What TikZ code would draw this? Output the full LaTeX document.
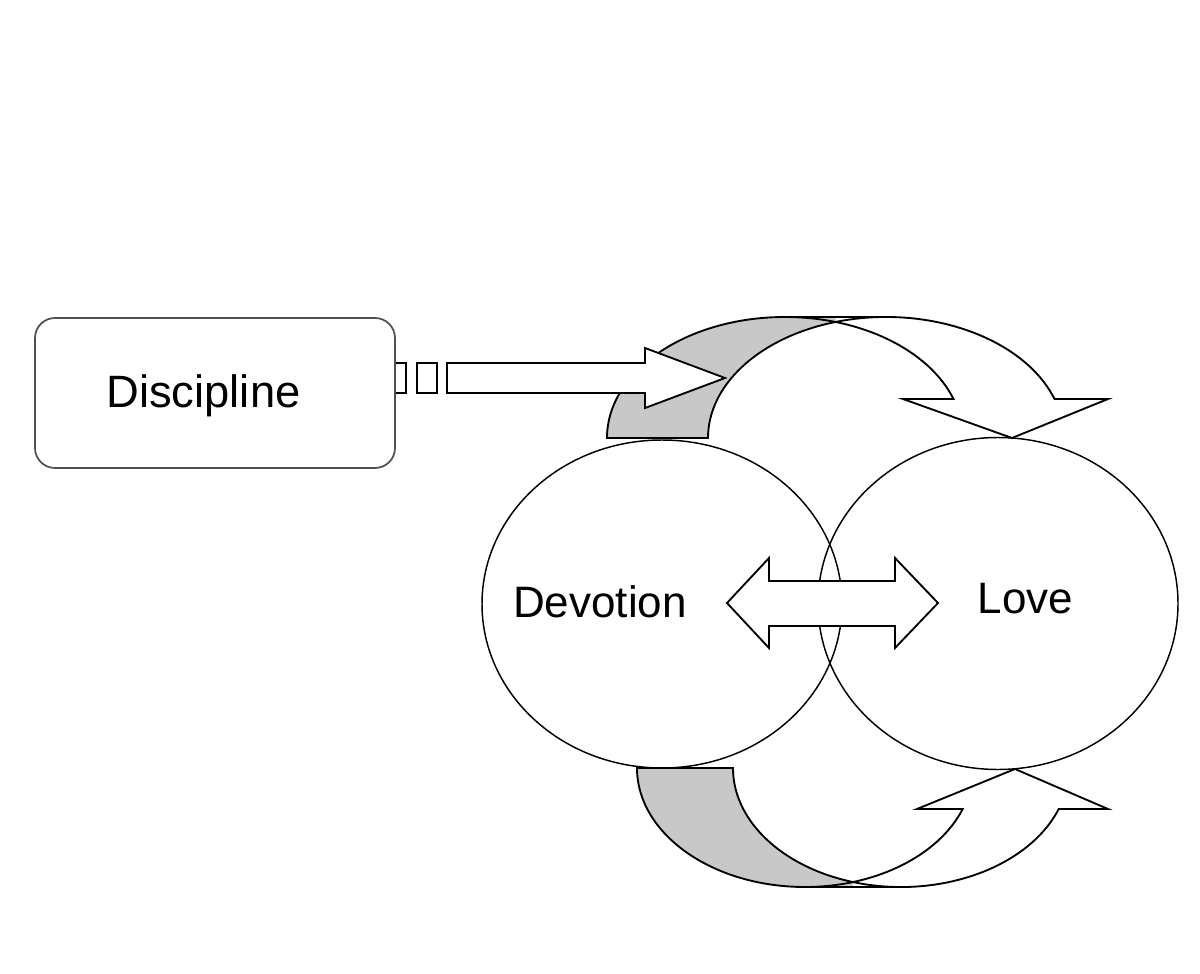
\documentclass[tikz,border=0pt]{standalone}
\usepackage{fontspec}
\setmainfont{Liberation Sans}
\usetikzlibrary{shapes.geometric}
\definecolor{ribbonshade}{RGB}{200,200,200}
\definecolor{boxline}{RGB}{80,80,80}

\begin{document}
\begin{tikzpicture}[x=0.75pt,y=0.75pt,yscale=-1,xscale=1,
    outl/.style={draw=black,line width=1.4pt,line join=miter},
    ringnode/.style={ellipse,draw=black,line width=1.1pt,inner sep=0pt,minimum width=270pt},
    lbl/.style={anchor=base,inner sep=0.75pt,font=\fontsize{33}{40}\selectfont}]
    \useasboundingbox (0,0) rectangle (1200,974);
    \fill[white] (0,0) rectangle (1200,974);
    %Shape: Ellipse [Devotion]
    \node[ringnode,minimum height=246pt] (devo) at (662,604) {};
    %Shape: Ellipse [Love]
    \node[ringnode,minimum height=249pt] (love) at (998,603.5) {};
    %Curved Arrow [top]
    \fill[white] (607,438) arc[start angle=180,end angle=341.2,x radius=178,y radius=121] -- (903,399) -- (1012,438) -- (1108,399) -- (1054.5,399) arc[start angle=341.2,end angle=180,x radius=178,y radius=121] -- cycle;
    \fill[ribbonshade] (607,438) arc[start angle=180,end angle=270,x radius=178,y radius=121] -- (835.6,317) -- (835.6,322) arc[start angle=253.5,end angle=180,x radius=178,y radius=121] -- cycle;
    \draw[outl] (607,438) arc[start angle=180,end angle=341.2,x radius=178,y radius=121] -- (903,399) -- (1012,438) -- (1108,399) -- (1054.5,399) arc[start angle=341.2,end angle=180,x radius=178,y radius=121] -- cycle;
    \draw[outl] (785,317) -- (886,317);
    %Curved Arrow [bottom]
    \fill[white] (637,768) arc[start angle=180,end angle=20.15,x radius=168,y radius=119] -- (917,809) -- (1015,769) -- (1108,809) -- (1058.7,809) arc[start angle=20.15,end angle=180,x radius=168,y radius=119] -- cycle;
    \fill[ribbonshade] (637,768) arc[start angle=180,end angle=90,x radius=168,y radius=119] -- (853,887) -- (853,882) arc[start angle=106.6,end angle=180,x radius=168,y radius=119] -- cycle;
    \draw[outl] (637,768) arc[start angle=180,end angle=20.15,x radius=168,y radius=119] -- (917,809) -- (1015,769) -- (1108,809) -- (1058.7,809) arc[start angle=20.15,end angle=180,x radius=168,y radius=119] -- cycle;
    \draw[outl] (805,887) -- (901,887);
    %Double Arrow
    \draw[outl,fill=white] (727,603) -- (769,558) -- (769,581) -- (895,581) -- (895,558) -- (938,603) -- (895,648) -- (895,626) -- (769,626) -- (769,648) -- cycle;
    %Shape: Rectangle
    \draw[outl,fill=white] (386,363) rectangle (406,393);
    \draw[outl,fill=white] (417,363) rectangle (437,393);
    %Rounded Rect [Discipline]
    \node[draw=boxline,line width=1.3pt,fill=white,rounded corners=15pt,inner sep=0pt,minimum width=270pt,minimum height=112.5pt] (disc) at (215,393) {};
    %Right Arrow
    \draw[outl,fill=white] (447,363) -- (645,363) -- (645,348) -- (725,378) -- (645,408) -- (645,393) -- (447,393) -- cycle;
    % Text Node
    \node[lbl,font=\fontsize{34}{40}\selectfont] (disctxt) at (203.5,407) {Discipline};
    % Text Node
    \node[lbl] (devotxt) at (600,617) {Devotion};
    % Text Node
    \node[lbl] (lovetxt) at (1025.5,613) {Love};
\end{tikzpicture}
\end{document}
